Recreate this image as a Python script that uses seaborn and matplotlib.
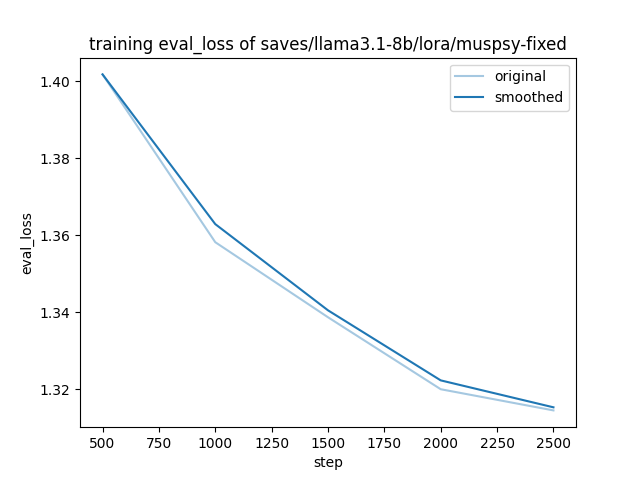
import matplotlib
matplotlib.use("Agg")
import matplotlib.pyplot as plt
import seaborn as sns
import pandas as pd

steps = [500, 1000, 1500, 2000, 2500]
original = [1.4018, 1.3582, 1.3387, 1.3200, 1.3145]
smoothed = [1.4018, 1.3629, 1.3405, 1.3223, 1.3153]

df = pd.DataFrame({"step": steps, "original": original, "smoothed": smoothed})

fig, ax = plt.subplots(figsize=(6.4, 4.8), dpi=100)
sns.lineplot(data=df, x="step", y="original", ax=ax, color="#1f77b4", alpha=0.4, label="original")
sns.lineplot(data=df, x="step", y="smoothed", ax=ax, color="#1f77b4", label="smoothed")
ax.set_title("training eval_loss of saves/llama3.1-8b/lora/muspsy-fixed")
ax.set_xlabel("step")
ax.set_ylabel("eval_loss")
ax.legend()
fig.savefig("out.png", dpi=100)
